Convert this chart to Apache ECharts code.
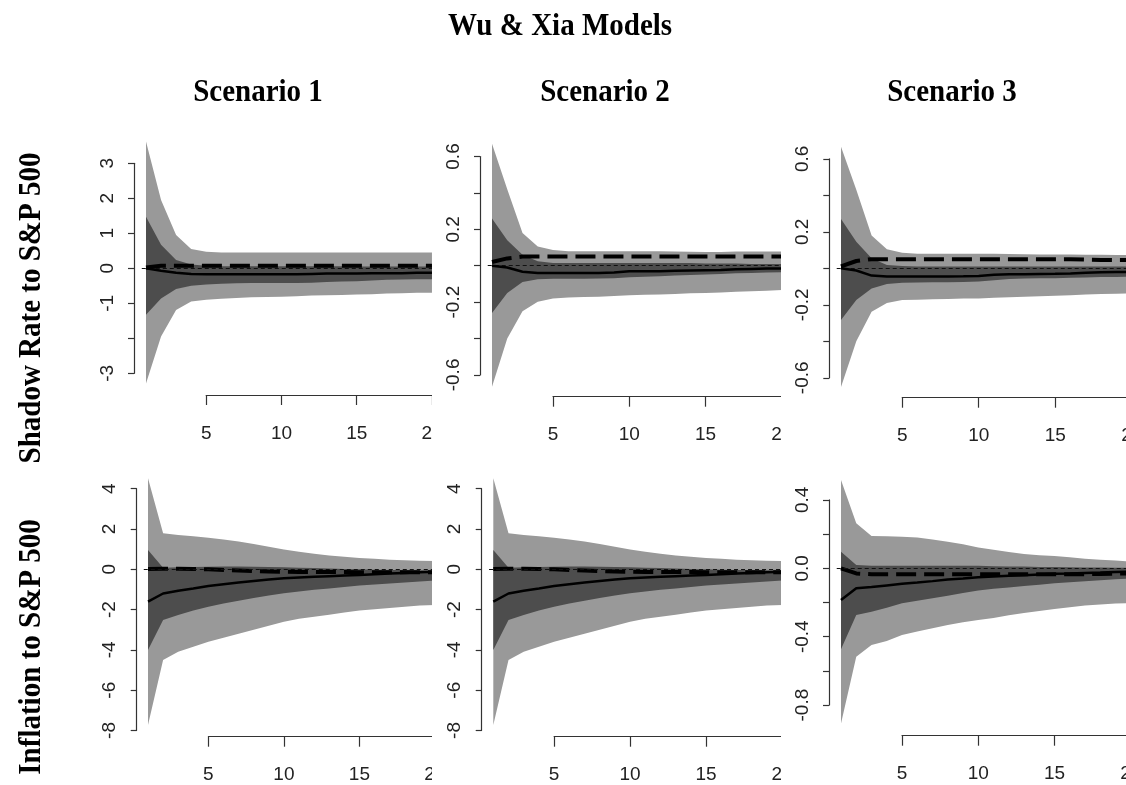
<!DOCTYPE html>
<html>
<head>
<meta charset="utf-8">
<script src="https://cdn.jsdelivr.net/npm/echarts@6/dist/echarts.min.js"></script>
<style>
  html, body { margin: 0; padding: 0; background: #ffffff; }
  #stage { position: relative; width: 1126px; height: 785px; overflow: hidden; background: #fff; }
  .layer { position: absolute; left: 0; top: 0; width: 1126px; height: 785px; }
</style>
</head>
<body>
<div id="stage">
  <div id="titles" class="layer"></div>
  <div id="p0" class="layer"></div>
  <div id="p1" class="layer"></div>
  <div id="p2" class="layer"></div>
  <div id="p3" class="layer"></div>
  <div id="p4" class="layer"></div>
  <div id="p5" class="layer"></div>
</div>
<script>
// ---------------- DATA ----------------
const mainTitle = 'Wu & Xia Models';
const colTitles = ['Scenario 1', 'Scenario 2', 'Scenario 3'];
const rowTitles = ['Shadow Rate to S&P 500', 'Inflation to S&P 500'];
const horizon = [1, 2, 3, 4, 5, 6, 7, 8, 9, 10, 11, 12, 13, 14, 15, 16, 17, 18, 19, 20];
const xTickLabels = ['5', '10', '15', '20'];

// y tick labels (blank = tick without label, as in the original)
const srS1YLabels = ['-3', '', '-1', '0', '1', '2', '3'];
const srS2YLabels = ['-0.6', '', '-0.2', '', '0.2', '', '0.6'];
const srS3YLabels = ['-0.6', '', '-0.2', '', '0.2', '', '0.6'];
const infS1YLabels = ['-8', '-6', '-4', '-2', '0', '2', '4'];
const infS2YLabels = ['-8', '-6', '-4', '-2', '0', '2', '4'];
const infS3YLabels = ['-0.8', '', '-0.4', '', '0.0', '', '0.4'];

// Shadow Rate to S&P 500, Scenario 1
const srS1Hi95 = [3.62, 1.95, 0.95, 0.55, 0.47, 0.45, 0.45, 0.45, 0.45, 0.45, 0.45, 0.45, 0.45, 0.45, 0.45, 0.45, 0.45, 0.45, 0.45, 0.45];
const srS1Hi68 = [1.47, 0.67, 0.24, 0.11, 0.07, 0.06, 0.06, 0.06, 0.06, 0.06, 0.06, 0.06, 0.06, 0.06, 0.05, 0.05, 0.05, 0.05, 0.05, 0.05];
const srS1Lo68 = [-1.33, -0.86, -0.59, -0.50, -0.46, -0.44, -0.43, -0.42, -0.42, -0.42, -0.42, -0.41, -0.39, -0.38, -0.37, -0.35, -0.33, -0.32, -0.31, -0.31];
const srS1Lo95 = [-3.29, -1.95, -1.19, -0.95, -0.90, -0.87, -0.85, -0.83, -0.82, -0.81, -0.80, -0.78, -0.77, -0.76, -0.75, -0.74, -0.72, -0.71, -0.70, -0.70];
const srS1Median = [0.00, -0.07, -0.13, -0.16, -0.17, -0.17, -0.17, -0.17, -0.17, -0.17, -0.17, -0.16, -0.15, -0.15, -0.15, -0.14, -0.14, -0.14, -0.13, -0.13];
const srS1Alt = [0.02, 0.07, 0.07, 0.07, 0.07, 0.07, 0.07, 0.07, 0.07, 0.07, 0.07, 0.07, 0.07, 0.07, 0.07, 0.07, 0.07, 0.07, 0.07, 0.07];

// Shadow Rate to S&P 500, Scenario 2
const srS2Hi95 = [0.67, 0.42, 0.18, 0.105, 0.086, 0.080, 0.080, 0.080, 0.080, 0.080, 0.080, 0.080, 0.078, 0.076, 0.075, 0.075, 0.078, 0.078, 0.078, 0.078];
const srS2Hi68 = [0.26, 0.14, 0.06, 0.025, 0.015, 0.015, 0.015, 0.015, 0.015, 0.015, 0.015, 0.015, 0.015, 0.015, 0.012, 0.012, 0.012, 0.010, 0.010, 0.010];
const srS2Lo68 = [-0.26, -0.15, -0.09, -0.075, -0.072, -0.072, -0.072, -0.071, -0.069, -0.064, -0.061, -0.058, -0.054, -0.051, -0.048, -0.045, -0.042, -0.040, -0.038, -0.036];
const srS2Lo95 = [-0.665, -0.40, -0.25, -0.198, -0.18, -0.175, -0.172, -0.170, -0.167, -0.163, -0.160, -0.158, -0.155, -0.152, -0.150, -0.147, -0.143, -0.140, -0.137, -0.134];
const srS2Median = [0.00, -0.010, -0.033, -0.040, -0.040, -0.040, -0.040, -0.040, -0.038, -0.030, -0.030, -0.030, -0.028, -0.026, -0.025, -0.024, -0.020, -0.018, -0.016, -0.015];
const srS2Alt = [0.02, 0.04, 0.05, 0.05, 0.05, 0.05, 0.05, 0.05, 0.05, 0.05, 0.05, 0.05, 0.05, 0.05, 0.05, 0.05, 0.05, 0.05, 0.05, 0.05];

// Shadow Rate to S&P 500, Scenario 3
const srS3Hi95 = [0.666, 0.43, 0.18, 0.104, 0.085, 0.080, 0.080, 0.080, 0.080, 0.080, 0.080, 0.078, 0.077, 0.076, 0.075, 0.075, 0.074, 0.074, 0.073, 0.073];
const srS3Hi68 = [0.27, 0.146, 0.055, 0.018, 0.012, 0.010, 0.010, 0.010, 0.010, 0.010, 0.010, 0.010, 0.010, 0.010, 0.010, 0.010, 0.010, 0.010, 0.010, 0.010];
const srS3Lo68 = [-0.283, -0.174, -0.11, -0.086, -0.079, -0.078, -0.077, -0.076, -0.075, -0.072, -0.065, -0.058, -0.056, -0.055, -0.054, -0.052, -0.050, -0.048, -0.047, -0.046];
const srS3Lo95 = [-0.65, -0.40, -0.238, -0.19, -0.174, -0.172, -0.170, -0.168, -0.166, -0.165, -0.162, -0.159, -0.156, -0.153, -0.150, -0.147, -0.144, -0.141, -0.139, -0.137];
const srS3Median = [0.00, -0.012, -0.040, -0.045, -0.045, -0.045, -0.045, -0.045, -0.044, -0.042, -0.035, -0.033, -0.032, -0.031, -0.030, -0.028, -0.024, -0.022, -0.020, -0.020];
const srS3Alt = [0.01, 0.04, 0.05, 0.05, 0.05, 0.05, 0.05, 0.05, 0.05, 0.05, 0.05, 0.05, 0.05, 0.05, 0.05, 0.05, 0.048, 0.046, 0.045, 0.045];

// Inflation to S&P 500, Scenario 1
const infS1Hi95 = [4.52, 1.79, 1.70, 1.64, 1.56, 1.48, 1.38, 1.26, 1.12, 0.98, 0.87, 0.77, 0.69, 0.62, 0.56, 0.52, 0.48, 0.45, 0.43, 0.41];
const infS1Hi68 = [0.96, 0.08, 0.10, 0.12, 0.13, 0.14, 0.14, 0.13, 0.12, 0.10, 0.08, 0.06, 0.04, 0.02, 0.00, -0.02, -0.03, -0.04, -0.05, -0.06];
const infS1Lo68 = [-4.00, -2.52, -2.27, -2.05, -1.86, -1.70, -1.56, -1.43, -1.30, -1.19, -1.10, -1.02, -0.95, -0.88, -0.81, -0.75, -0.70, -0.65, -0.60, -0.55];
const infS1Lo95 = [-7.73, -4.50, -4.09, -3.84, -3.60, -3.40, -3.20, -3.00, -2.80, -2.60, -2.45, -2.35, -2.25, -2.15, -2.05, -1.98, -1.92, -1.86, -1.80, -1.77];
const infS1Median = [-1.60, -1.20, -1.06, -0.95, -0.83, -0.74, -0.66, -0.58, -0.51, -0.45, -0.41, -0.37, -0.34, -0.31, -0.28, -0.24, -0.21, -0.18, -0.15, -0.12];
const infS1Alt = [0.02, 0.03, 0.03, 0.02, 0.00, -0.03, -0.06, -0.09, -0.11, -0.12, -0.13, -0.13, -0.14, -0.14, -0.15, -0.15, -0.15, -0.15, -0.15, -0.15];

// Inflation to S&P 500, Scenario 2
const infS2Hi95 = [4.52, 1.79, 1.70, 1.64, 1.56, 1.48, 1.38, 1.26, 1.12, 0.98, 0.87, 0.77, 0.69, 0.62, 0.56, 0.52, 0.48, 0.45, 0.43, 0.41];
const infS2Hi68 = [0.96, 0.08, 0.10, 0.12, 0.13, 0.14, 0.14, 0.13, 0.12, 0.10, 0.08, 0.06, 0.04, 0.02, 0.00, -0.02, -0.03, -0.04, -0.05, -0.06];
const infS2Lo68 = [-4.00, -2.52, -2.27, -2.05, -1.86, -1.70, -1.56, -1.43, -1.30, -1.19, -1.10, -1.02, -0.95, -0.88, -0.81, -0.75, -0.70, -0.65, -0.60, -0.55];
const infS2Lo95 = [-7.73, -4.50, -4.09, -3.84, -3.60, -3.40, -3.20, -3.00, -2.80, -2.60, -2.45, -2.35, -2.25, -2.15, -2.05, -1.98, -1.92, -1.86, -1.80, -1.77];
const infS2Median = [-1.60, -1.20, -1.06, -0.95, -0.83, -0.74, -0.66, -0.58, -0.51, -0.45, -0.41, -0.37, -0.34, -0.31, -0.28, -0.24, -0.21, -0.18, -0.15, -0.12];
const infS2Alt = [0.02, 0.03, 0.03, 0.02, 0.00, -0.03, -0.06, -0.09, -0.11, -0.12, -0.13, -0.13, -0.14, -0.14, -0.15, -0.15, -0.15, -0.15, -0.15, -0.15];

// Inflation to S&P 500, Scenario 3
const infS3Hi95 = [0.517, 0.263, 0.189, 0.187, 0.185, 0.180, 0.168, 0.155, 0.140, 0.122, 0.108, 0.095, 0.084, 0.077, 0.072, 0.065, 0.056, 0.050, 0.045, 0.040];
const infS3Hi68 = [0.097, 0.020, 0.015, 0.015, 0.015, 0.015, 0.015, 0.015, 0.015, 0.015, 0.012, 0.010, 0.010, 0.008, 0.007, 0.006, 0.005, 0.004, 0.003, 0.003];
const infS3Lo68 = [-0.474, -0.273, -0.254, -0.230, -0.205, -0.190, -0.175, -0.160, -0.145, -0.130, -0.120, -0.112, -0.104, -0.096, -0.088, -0.082, -0.076, -0.070, -0.064, -0.059];
const infS3Lo95 = [-0.907, -0.517, -0.449, -0.425, -0.390, -0.370, -0.350, -0.332, -0.316, -0.303, -0.290, -0.275, -0.262, -0.250, -0.238, -0.228, -0.218, -0.211, -0.206, -0.203];
const infS3Median = [-0.186, -0.117, -0.110, -0.100, -0.090, -0.083, -0.075, -0.065, -0.060, -0.053, -0.048, -0.044, -0.040, -0.036, -0.032, -0.030, -0.027, -0.025, -0.022, -0.020];
const infS3Alt = [0.000, -0.030, -0.035, -0.035, -0.035, -0.035, -0.035, -0.035, -0.035, -0.035, -0.035, -0.035, -0.035, -0.035, -0.035, -0.035, -0.035, -0.033, -0.031, -0.030];

// ---------------- LAYOUT ----------------
const LIGHT = '#999999', DARK = '#4d4d4d', AXIS = '#333333';
const TICK_FONT = '"Liberation Sans", Arial, sans-serif';
const colClip = [[0, 432], [432, 781], [781, 1126]];
const rowClip = [[110, 450], [450, 785]];

const panels = [
  { el: 'p0', row: 0, col: 0, x1: 146, kx: 15.05, y0: 268.3, ky: 35.0, axisX: 134, axisY: 395, top: 130,
    tMin: -3, tMax: 3, tStep: 1, yLabels: srS1YLabels,
    hi95: srS1Hi95, hi68: srS1Hi68, lo68: srS1Lo68, lo95: srS1Lo95, med: srS1Median, alt: srS1Alt },
  { el: 'p1', row: 0, col: 1, x1: 492, kx: 15.25, y0: 265.7, ky: 182, axisX: 480, axisY: 396.7, top: 130,
    tMin: -0.6, tMax: 0.6, tStep: 0.2, yLabels: srS2YLabels,
    hi95: srS2Hi95, hi68: srS2Hi68, lo68: srS2Lo68, lo95: srS2Lo95, med: srS2Median, alt: srS2Alt },
  { el: 'p2', row: 0, col: 2, x1: 841, kx: 15.3, y0: 268.3, ky: 182.5, axisX: 829.3, axisY: 397.7, top: 130,
    tMin: -0.6, tMax: 0.6, tStep: 0.2, yLabels: srS3YLabels,
    hi95: srS3Hi95, hi68: srS3Hi68, lo68: srS3Lo68, lo95: srS3Lo95, med: srS3Median, alt: srS3Alt },
  { el: 'p3', row: 1, col: 0, x1: 148, kx: 15.1, y0: 569.3, ky: 20.15, axisX: 136.7, axisY: 736.7, top: 470,
    tMin: -8, tMax: 4, tStep: 2, yLabels: infS1YLabels,
    hi95: infS1Hi95, hi68: infS1Hi68, lo68: infS1Lo68, lo95: infS1Lo95, med: infS1Median, alt: infS1Alt },
  { el: 'p4', row: 1, col: 1, x1: 493.3, kx: 15.2, y0: 569.3, ky: 20.15, axisX: 481.7, axisY: 736.7, top: 470,
    tMin: -8, tMax: 4, tStep: 2, yLabels: infS2YLabels,
    hi95: infS2Hi95, hi68: infS2Hi68, lo68: infS2Lo68, lo95: infS2Lo95, med: infS2Median, alt: infS2Alt },
  { el: 'p5', row: 1, col: 2, x1: 841, kx: 15.25, y0: 568.3, ky: 171, axisX: 829, axisY: 735.7, top: 470,
    tMin: -0.8, tMax: 0.4, tStep: 0.2, yLabels: infS3YLabels,
    hi95: infS3Hi95, hi68: infS3Hi68, lo68: infS3Lo68, lo95: infS3Lo95, med: infS3Median, alt: infS3Alt }
];

function pairs(ys) { return horizon.map((h, i) => [h, ys[i]]); }

// band drawn as one polygon through the axes' own coordinate mapping
function bandSeries(name, lo, hi, color, z) {
  return {
    name, type: 'custom', xAxisIndex: 0, yAxisIndex: 0, silent: true, z,
    data: horizon.map((h, i) => [h, lo[i], hi[i]]),
    encode: { x: 0, y: [1, 2] },
    renderItem: (params, api) => {
      if (params.dataIndex !== 0) return null;
      const pts = [];
      horizon.forEach((h, i) => pts.push(api.coord([h, hi[i]])));
      for (let i = horizon.length - 1; i >= 0; i--) pts.push(api.coord([horizon[i], lo[i]]));
      return { type: 'polygon', shape: { points: pts }, style: { fill: color, stroke: null } };
    }
  };
}

function panelOption(p) {
  const xmin = 0.72, xmax = 20.76;
  const left = p.x1 - (1 - xmin) * p.kx;
  const width = (xmax - xmin) * p.kx;
  const height = p.axisY - p.top;
  const ymax = (p.y0 - p.top) / p.ky;
  const ymin = (p.y0 - p.axisY) / p.ky;
  const yTop = p.y0 - p.tMax * p.ky;
  const yH = (p.tMax - p.tMin) * p.ky;
  const x5 = p.x1 + 4 * p.kx;
  const G = { outerBoundsMode: 'none', containLabel: false };

  return {
    animation: false,
    backgroundColor: 'transparent',
    grid: [
      Object.assign({ left, top: p.top, width, height }, G),
      Object.assign({ left: x5, top: p.axisY - 20, width: 15 * p.kx, height: 20 }, G),
      Object.assign({ left: p.axisX, top: yTop, width: 20, height: yH }, G)
    ],
    xAxis: [
      { gridIndex: 0, type: 'value', min: xmin, max: xmax, show: false },
      { gridIndex: 1, type: 'value', min: 5, max: 20, interval: 5, position: 'bottom',
        axisLine: { show: true, onZero: false, lineStyle: { color: AXIS, width: 1.2 } },
        axisTick: { show: true, inside: false, length: 10, lineStyle: { color: AXIS, width: 1.2 } },
        axisLabel: { show: true, margin: 29, fontSize: 19, fontFamily: TICK_FONT, color: '#222',
          showMinLabel: true, showMaxLabel: true, hideOverlap: false,
          formatter: v => xTickLabels[Math.round((v - 5) / 5)] || '' },
        splitLine: { show: false } },
      { gridIndex: 2, type: 'value', min: 0, max: 1, show: false }
    ],
    yAxis: [
      { gridIndex: 0, type: 'value', min: ymin, max: ymax, show: false },
      { gridIndex: 1, type: 'value', min: 0, max: 1, show: false },
      { gridIndex: 2, type: 'value', min: p.tMin, max: p.tMax, interval: p.tStep, position: 'left',
        axisLine: { show: true, onZero: false, lineStyle: { color: AXIS, width: 1.2 } },
        axisTick: { show: true, inside: false, length: 6, lineStyle: { color: AXIS, width: 1.2 } },
        axisLabel: { show: true, rotate: 90, margin: 17, fontSize: 19, fontFamily: TICK_FONT, color: '#222',
          showMinLabel: true, showMaxLabel: true, hideOverlap: false,
          formatter: v => p.yLabels[Math.round((v - p.tMin) / p.tStep)] || '' },
        splitLine: { show: false } }
    ],
    series: [
      bandSeries('band95', p.lo95, p.hi95, LIGHT, 1),
      bandSeries('band68', p.lo68, p.hi68, DARK, 2),
      { name: 'alt', type: 'line', xAxisIndex: 0, yAxisIndex: 0, data: pairs(p.alt), symbol: 'none',
        silent: true, z: 4,
        lineStyle: { color: '#000', width: 4, type: [20, 8], cap: 'butt' },
        markLine: { silent: true, symbol: 'none', label: { show: false }, animation: false,
          lineStyle: { color: '#111', width: 1, type: [4, 3] }, data: [{ yAxis: 0 }] } },
      { name: 'median', type: 'line', xAxisIndex: 0, yAxisIndex: 0, data: pairs(p.med), symbol: 'none',
        silent: true, z: 5, lineStyle: { color: '#000', width: 2.5 } }
    ]
  };
}

// titles layer
const titleChart = echarts.init(document.getElementById('titles'), null, { renderer: 'canvas' });
const TITLE_FONT = 'bold 29px "Liberation Serif", "Times New Roman", serif';
const colCenters = [258, 605, 952];
const rowCenters = [308, 647];
titleChart.setOption({
  animation: false,
  graphic: [
    { type: 'text', x: 560, y: 27, scaleY: 1.12,
      style: { text: mainTitle, font: TITLE_FONT, fill: '#000', align: 'center', verticalAlign: 'middle' } }
  ].concat(colTitles.map((t, i) => ({
    type: 'text', x: colCenters[i], y: 93, scaleY: 1.12,
    style: { text: t, font: TITLE_FONT, fill: '#000', align: 'center', verticalAlign: 'middle' }
  }))).concat(rowTitles.map((t, i) => ({
    type: 'text', x: 32, y: rowCenters[i], rotation: Math.PI / 2, scaleY: 1.08,
    style: { text: t, font: TITLE_FONT, fill: '#000', align: 'center', verticalAlign: 'middle' }
  })))
});

panels.forEach(p => {
  const el = document.getElementById(p.el);
  const [cl, cr] = colClip[p.col];
  const [rt, rb] = rowClip[p.row];
  el.style.clipPath = `inset(${rt}px ${1126 - cr}px ${785 - rb}px ${cl}px)`;
  const chart = echarts.init(el, null, { renderer: 'canvas' });
  chart.setOption(panelOption(p));
});
</script>
</body>
</html>
